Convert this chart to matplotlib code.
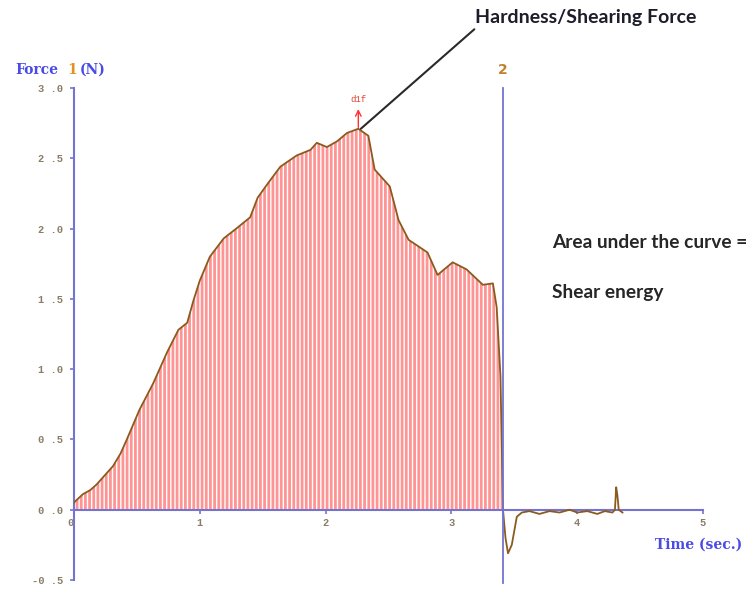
import numpy as np
import matplotlib
matplotlib.use("Agg")
import matplotlib.pyplot as plt

# force curve
time_s = [0.00, 0.01, 0.07, 0.13, 0.18, 0.23, 0.31, 0.37, 0.42, 0.52, 0.63,
          0.74, 0.83, 0.90, 0.95, 1.00, 1.08, 1.19, 1.29, 1.40, 1.46, 1.54,
          1.64, 1.77, 1.88, 1.93, 2.01, 2.09, 2.17, 2.26, 2.34, 2.39, 2.51,
          2.58, 2.66, 2.81, 2.89, 3.01, 3.12, 3.25, 3.33, 3.36, 3.39, 3.41,
          3.43, 3.45, 3.48, 3.52, 3.56, 3.62, 3.70, 3.78, 3.86, 3.94, 4.00,
          4.08, 4.16, 4.22, 4.28, 4.30, 4.31, 4.32, 4.33, 4.36]
force_n = [0.05, 0.06, 0.11, 0.14, 0.18, 0.23, 0.31, 0.40, 0.50, 0.71, 0.90,
           1.12, 1.28, 1.33, 1.49, 1.63, 1.80, 1.93, 2.00, 2.08, 2.22, 2.32,
           2.44, 2.52, 2.56, 2.61, 2.58, 2.62, 2.68, 2.71, 2.66, 2.42, 2.30,
           2.06, 1.92, 1.83, 1.67, 1.76, 1.71, 1.60, 1.61, 1.44, 0.95, 0.00,
           -0.20, -0.31, -0.25, -0.05, -0.02, -0.01, -0.03, -0.01, -0.02, 0.00,
           -0.02, -0.01, -0.03, -0.01, -0.02, 0.00, 0.16, 0.10, 0.00, -0.02]
end_time = 3.41
peak_time, peak_force = 2.26, 2.71
y_ticks = [-0.5, 0.0, 0.5, 1.0, 1.5, 2.0, 2.5, 3.0]
y_tick_labels = ["-0 .5", "0 .0", "0 .5", "1 .0", "1 .5", "2 .0", "2 .5", "3 .0"]
x_ticks = [0, 1, 2, 3, 4, 5]

plt.rcParams['hatch.linewidth'] = 2.0
axis_blue = '#7474d0'
tick_col = '#8a7d66'

fig = plt.figure(figsize=(7.54, 5.89), dpi=100)
W, H = 754, 589
ax = fig.add_axes([74 / W, (H - 580) / H, (703 - 74) / W, (580 - 88) / H])
ax.set_xlim(0, 5)
ax.set_ylim(-0.5, 3.0)

t = np.array(time_s)
f = np.array(force_n)
ax.fill_between(t, 0, f, where=t <= end_time, facecolor='none',
                edgecolor='#ff9494', hatch='||||', linewidth=0)
ax.plot(t, f, color='#8b5a1e', lw=1.3, zorder=3)

# axes look
for s in ['top', 'right']:
    ax.spines[s].set_visible(False)
ax.spines['bottom'].set_position(('data', 0))
ax.spines['left'].set_color(axis_blue)
ax.spines['bottom'].set_color(axis_blue)
ax.spines['left'].set_linewidth(1.5)
ax.spines['bottom'].set_linewidth(1.5)
ax.set_yticks(y_ticks)
ax.set_yticklabels(y_tick_labels)
ax.set_xticks(x_ticks)
ax.set_xticklabels([str(v) for v in x_ticks])
ax.tick_params(axis='y', colors=axis_blue, length=3, width=1.2, pad=5,
               labelcolor=tick_col, labelsize=7.5)
ax.tick_params(axis='x', colors=axis_blue, length=3, width=1.2, pad=3,
               labelcolor=tick_col, labelsize=7.5)
for lab in ax.get_xticklabels() + ax.get_yticklabels():
    lab.set_family('Liberation Mono')
    lab.set_fontweight('bold')
ax.get_xticklabels()[0].set_horizontalalignment('right')

# cursor 2 at end of cut
ax.plot([end_time, end_time], [-0.52, 3.0], color=axis_blue, lw=1.3,
        clip_on=False, zorder=4)
ax.text(end_time, 3.13, "2", color='#c0802a', fontsize=10, fontweight='bold',
        ha='center', va='center', family='DejaVu Sans')

# peak marker
ax.annotate("", xy=(peak_time, 2.85), xytext=(peak_time, 2.72),
            arrowprops=dict(arrowstyle='->', color='#ff3030', lw=1,
                            shrinkA=0, shrinkB=0))
ax.text(peak_time, 2.92, "d1f", color='#e04030', fontsize=6.5,
        ha='center', va='center', family='Liberation Mono')

ax.annotate("Hardness/Shearing Force", xy=(peak_time + 0.02, peak_force),
            xytext=(475, 571), textcoords='figure pixels', ha='left',
            va='center', fontsize=14, fontweight='bold', color='#1c1c2a',
            family='Lato',
            arrowprops=dict(arrowstyle='-', color='#2a2a2a', lw=1.5,
                            shrinkA=0, shrinkB=0, relpos=(0.02, 0.1)))

# axis titles
fig.text(15 / W, 1 - 70 / H, "Force", color='#4a4ae6', fontsize=10,
         fontweight='bold', family='DejaVu Serif', va='center')
fig.text(67 / W, 1 - 70 / H, "1", color='#e6901e', fontsize=10,
         fontweight='bold', family='DejaVu Serif', va='center')
fig.text(80 / W, 1 - 70 / H, "(N)", color='#4a4ae6', fontsize=10,
         fontweight='bold', family='DejaVu Serif', va='center')
fig.text(655 / W, 1 - 545 / H, "Time (sec.)", color='#4a4ae6', fontsize=10,
         fontweight='bold', family='DejaVu Serif', va='center')

fig.text(552 / W, 1 - 243 / H, "Area under the curve =", fontsize=13.8,
         fontweight='bold', color='#262626', family='Lato', va='center')
fig.text(552 / W, 1 - 293 / H, "Shear energy", fontsize=13.8,
         fontweight='bold', color='#262626', family='Lato', va='center')

fig.savefig("out.png", dpi=100)
